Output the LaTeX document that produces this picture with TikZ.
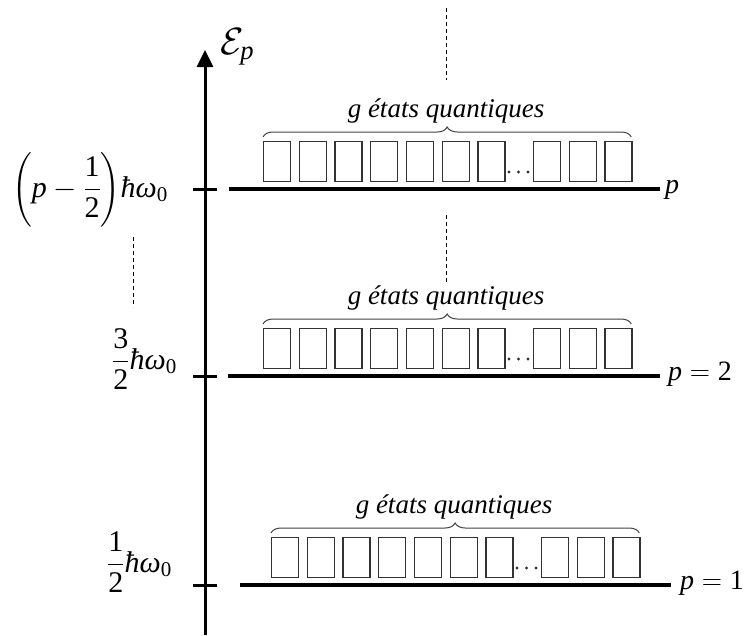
\RequirePackage{fix-cm}
\documentclass[tikz,border=0pt]{standalone}
\usepackage{amsmath}
\usepackage{fontspec}
\setmainfont{Liberation Serif}
\usetikzlibrary{decorations.pathreplacing,arrows.meta}
\newcommand{\vp}{\text{\itshape p}}
\newcommand{\hbw}{\text{\itshape ħω}_{\text{0}}}
\newcommand{\fr}[2]{\dfrac{\text{#1}}{\text{#2}}}
\begin{document}
\begin{tikzpicture}[x=1pt,y=-1pt,
  mathlbl/.style={font=\fontsize{30}{34}\selectfont, inner sep=0pt},
  levlbl/.style={font=\fontsize{28}{32}\selectfont, inner sep=0pt},
  axlbls/.style={font=\fontsize{38}{42}\selectfont, inner sep=0pt},
  statetxt/.style={font=\fontsize{27}{31}\selectfont\itshape, inner sep=0pt},
  lvl/.style={line width=4pt},
  axisline/.style={line width=3pt},
  tickline/.style={line width=3pt},
  statebox/.style={draw=black!80, line width=1.3pt, minimum width=27pt, minimum height=40pt, inner sep=0pt, anchor=north west},
  gbrace/.style={decorate, decoration={brace, amplitude=10pt}, draw=black!75, line width=1pt},
  dashline/.style={dash pattern=on 4pt off 3pt, line width=1pt},
]
\useasboundingbox (0,0) rectangle (752,635);

% axis
\coordinate (axb) at (205,635);
\coordinate (axt) at (205,50);
\draw[axisline,-{Triangle[length=17pt,width=16pt]}] (axb) -- (axt);
\node[axlbls, anchor=base west] (axlbl) at (220,54) {$\mathcal{E}_{\vp}$};

% dashed lines
\coordinate (d1a) at (446,8);   \coordinate (d1b) at (446,80);
\coordinate (d2a) at (446,215); \coordinate (d2b) at (446,283);
\coordinate (d3a) at (133,237); \coordinate (d3b) at (133,307);
\draw[dashline] (d1a) -- (d1b);
\draw[dashline] (d2a) -- (d2b);
\draw[dashline] (d3a) -- (d3b);

% levels
\foreach \n/\L/\bx/\ls/\le/\tx/\lb in {P/189/263/229/660/665/0, Two/376/263/228/660/668/2, One/585/271/240/671/680/1} {
  \coordinate (tl\n) at (193,\L);
  \coordinate (tr\n) at (217,\L);
  \draw[tickline] (tl\n) -- (tr\n);
  \coordinate (ls\n) at (\ls,\L);
  \coordinate (le\n) at (\le,\L);
  \draw[lvl] (ls\n) -- (le\n);
  \foreach \i in {0,...,6}
    \node[statebox] (b\n\i) at ({\bx+\i*35.7},{\L-48}) {};
  \foreach \i in {7,8,9}
    \node[statebox] (b\n\i) at ({\bx+\i*35.7+20},{\L-48}) {};
  \foreach \k in {0,1,2}
    \fill[black!80] ({\bx+246+\k*9.5},{\L-17}) circle (1.7pt);
  \coordinate (bl\n) at (\bx,\L-52);
  \coordinate (br\n) at ({\bx+368.3},\L-52);
  \draw[gbrace] (bl\n) -- (br\n);
  \node[statetxt, anchor=base] (g\n) at ({\bx+183},\L-72) {g états quantiques};
  \ifnum\lb=0
    \node[levlbl, anchor=base west] (lab\n) at (\tx,\L+4) {$\vp$};
  \else
    \node[levlbl, anchor=base west] (lab\n) at (\tx,\L+4) {$\vp=\text{\lb}$};
  \fi
}

% energy labels
\node[mathlbl, anchor=base east] (eP) at (168,197) {${\left(\vp-\fr{1}{2}\right)}\hbw$};
\node[mathlbl, anchor=base east] (eTwo) at (177,369) {$\fr{3}{2}\hbw$};
\node[mathlbl, anchor=base east] (eOne) at (172,572) {$\fr{1}{2}\hbw$};
\end{tikzpicture}
\end{document}
